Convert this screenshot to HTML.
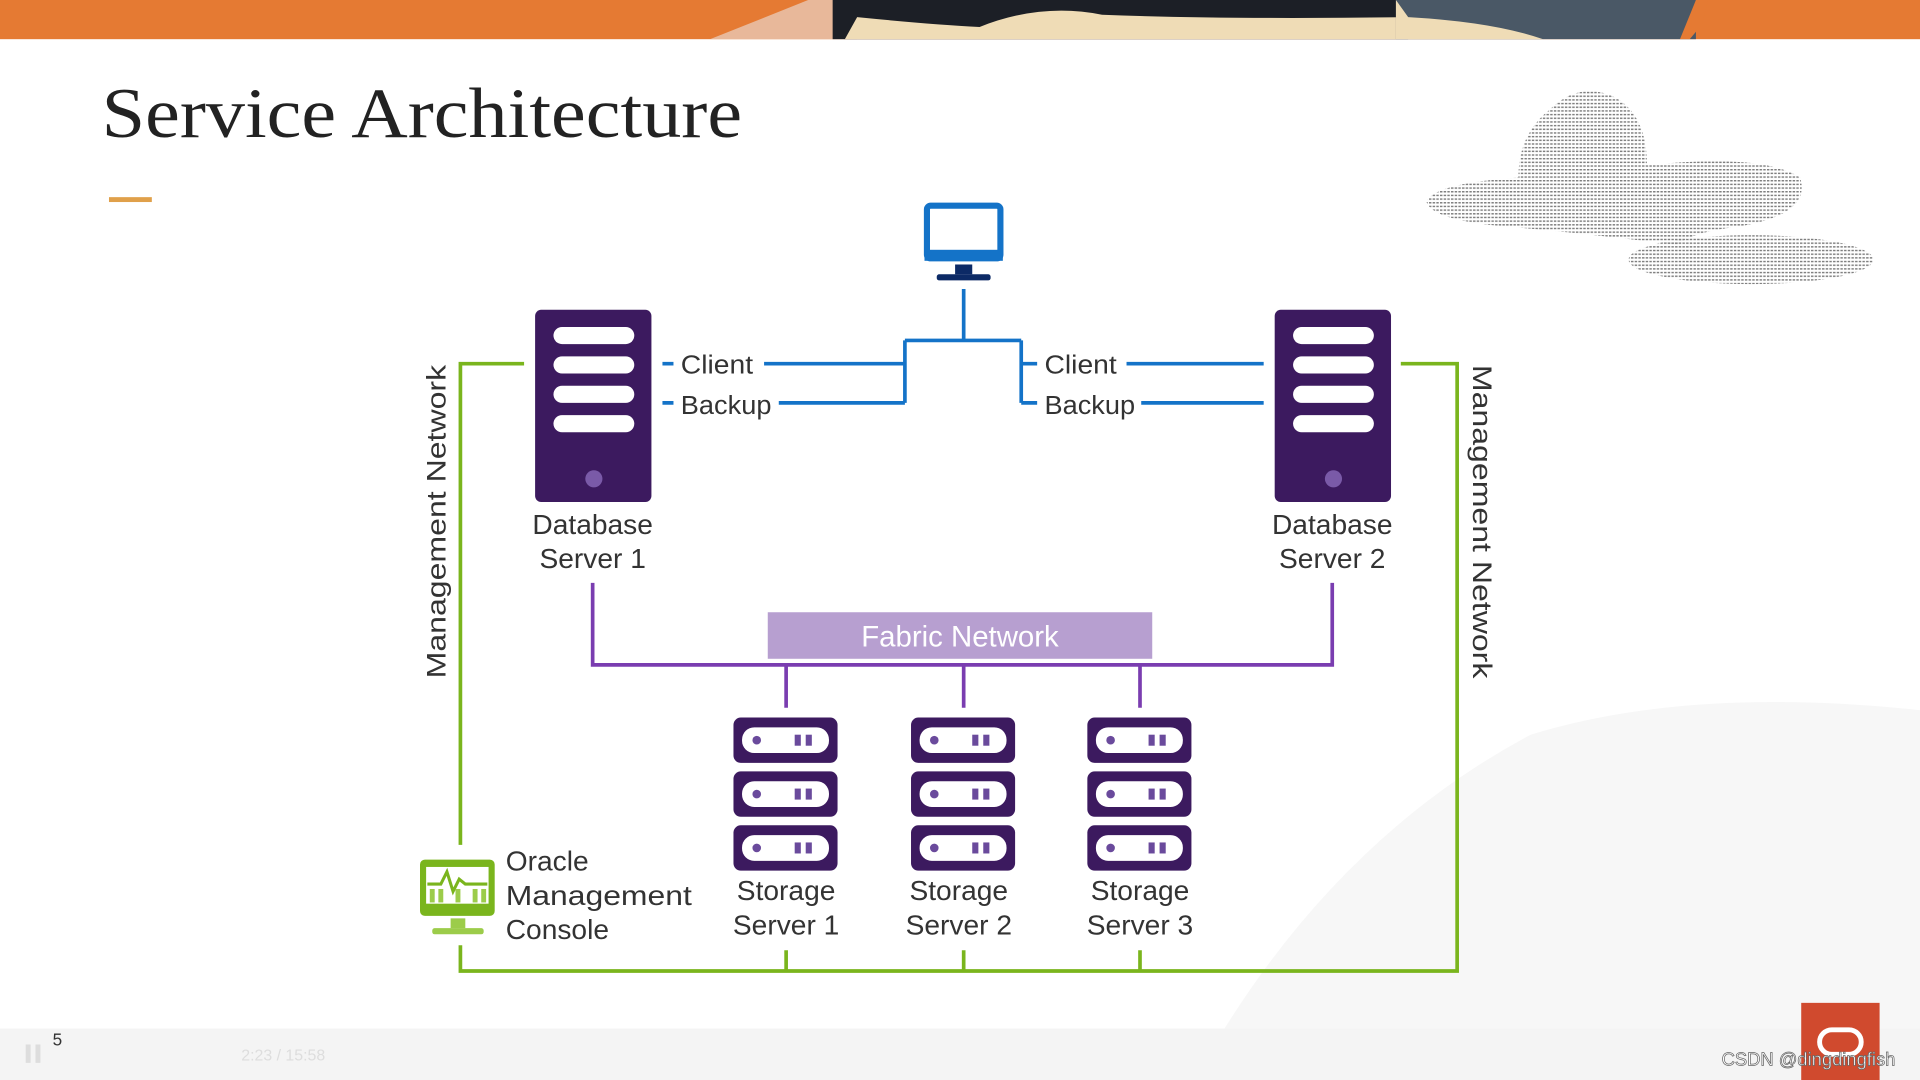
<!DOCTYPE html>
<html><head><meta charset="utf-8"><style>
html,body{margin:0;padding:0;width:1920px;height:1080px;overflow:hidden;background:#fff}
svg{display:block}
text{font-family:"Liberation Sans",sans-serif}
</style></head><body>
<svg width="1920" height="1080" viewBox="0 0 1568 882" xmlns="http://www.w3.org/2000/svg">
<defs>
<pattern id="dots" width="3" height="3" patternUnits="userSpaceOnUse"><rect width="2" height="1.2" fill="#555"/></pattern>
<g id="su">
<rect x="0" y="0" width="85" height="37" rx="6" fill="#3c1a5f"/>
<rect x="7" y="8" width="71" height="21" rx="10" fill="#fff"/>
<circle cx="19" cy="18.5" r="3.5" fill="#6a4a9c"/>
<rect x="50" y="14" width="5" height="9" fill="#6a4a9c"/>
<rect x="59" y="14" width="5" height="9" fill="#6a4a9c"/>
</g>
<g id="db">
<rect x="0" y="0" width="95" height="157" rx="5" fill="#3c1a5f"/>
<rect x="15" y="14" width="66" height="14" rx="7" fill="#fff"/>
<rect x="15" y="38" width="66" height="14" rx="7" fill="#fff"/>
<rect x="15" y="62" width="66" height="14" rx="7" fill="#fff"/>
<rect x="15" y="86" width="66" height="14" rx="7" fill="#fff"/>
<circle cx="48" cy="138" r="7" fill="#7a5aa8"/>
</g>
</defs>
<!-- banner -->
<rect x="0" y="0" width="1568" height="32" fill="#e57a33"/>
<polygon points="580,32 660,0 700,0 700,32" fill="#e8b89a"/>
<rect x="680" y="0" width="470" height="32" fill="#1c1f26"/>
<path d="M690,32 L700,14 Q760,20 800,22 Q850,2 900,12 Q1000,16 1150,14 Q1220,18 1260,32 Z" fill="#efdcb6"/>
<rect x="1140" y="0" width="245" height="32" fill="#4a5866"/>
<path d="M1140,0 L1150,14 Q1220,18 1260,32 L1140,32Z" fill="#efdcb6"/>
<path d="M1385,0 L1395,0 L1390,20 L1380,32 L1372,32 Z" fill="#e57a33"/>
<!-- clouds -->
<g opacity="0.75">
<path d="M1165,165 Q1170,150 1240,145 Q1240,110 1265,90 Q1290,65 1320,80 Q1345,95 1345,135 Q1440,125 1470,145 Q1480,175 1420,185 Q1380,190 1370,200 Q1290,190 1230,185 Q1170,180 1165,165Z" fill="url(#dots)"/>
<ellipse cx="1430" cy="212" rx="100" ry="20" fill="url(#dots)"/>
</g>
<!-- bottom right texture -->
<path d="M1000,840 Q1100,680 1250,600 Q1380,560 1568,580 L1568,840 Z" fill="#f7f7f7"/>
<!-- title -->
<text x="83" y="112" font-size="58" fill="#222" textLength="523" lengthAdjust="spacingAndGlyphs" style="font-family:'Liberation Serif',serif">Service Architecture</text>
<rect x="89" y="161" width="35" height="4" fill="#e0a04a"/>
<!-- monitor -->
<rect x="757" y="168" width="60" height="43" rx="3" fill="#fff" stroke="#1473c8" stroke-width="5"/>
<rect x="755" y="204" width="64" height="9" fill="#1473c8"/>
<rect x="780" y="216" width="14" height="8" fill="#0c2a66"/>
<rect x="765" y="224" width="44" height="5" rx="2" fill="#0c2a66"/>
<!-- blue lines -->
<g stroke="#1473c8" stroke-width="3" fill="none">
<path d="M787,236 V278 M739,278 H834 M739,278 V329 M834,278 V329"/>
<path d="M624,297 H739 M636,329 H739 M541,297 H550 M541,329 H550"/>
<path d="M834,297 H847 M834,329 H847 M920,297 H1032 M932,329 H1032"/>
</g>
<g font-size="21" fill="#333">
<text x="556" y="305" textLength="59" lengthAdjust="spacingAndGlyphs">Client</text><text x="556" y="338" textLength="74" lengthAdjust="spacingAndGlyphs">Backup</text>
<text x="853" y="305" textLength="59" lengthAdjust="spacingAndGlyphs">Client</text><text x="853" y="338" textLength="74" lengthAdjust="spacingAndGlyphs">Backup</text>
</g>
<!-- db servers -->
<use href="#db" x="437" y="253"/>
<use href="#db" x="1041" y="253"/>
<g font-size="23" fill="#333" text-anchor="middle">
<text x="484" y="436">Database</text><text x="484" y="464">Server 1</text>
<text x="1088" y="436">Database</text><text x="1088" y="464">Server 2</text>
</g>
<!-- green lines -->
<g stroke="#7ab51d" stroke-width="3" fill="none">
<path d="M428,297 H376 V690 M376,772 V793 H1190 V297 H1144"/>
<path d="M642,776 V793 M787,776 V793 M931,776 V793"/>
</g>
<!-- purple lines -->
<g stroke="#7a3db0" stroke-width="3" fill="none">
<path d="M484,476 V543 H1088 V476 M642,543 V578 M787,543 V578 M931,543 V578"/>
</g>
<rect x="627" y="500" width="314" height="38" fill="#b79fd0"/>
<text x="784" y="528" font-size="24" fill="#fff" text-anchor="middle">Fabric Network</text>
<!-- storage -->
<use href="#su" x="599" y="586"/><use href="#su" x="599" y="630"/><use href="#su" x="599" y="674"/>
<use href="#su" x="744" y="586"/><use href="#su" x="744" y="630"/><use href="#su" x="744" y="674"/>
<use href="#su" x="888" y="586"/><use href="#su" x="888" y="630"/><use href="#su" x="888" y="674"/>
<g font-size="23" fill="#333" text-anchor="middle">
<text x="642" y="735">Storage</text><text x="642" y="763">Server 1</text>
<text x="783" y="735">Storage</text><text x="783" y="763">Server 2</text>
<text x="931" y="735">Storage</text><text x="931" y="763">Server 3</text>
</g>
<!-- management network labels -->
<text transform="translate(364,426) rotate(-90)" font-size="22" fill="#333" text-anchor="middle" textLength="256" lengthAdjust="spacingAndGlyphs">Management Network</text>
<text transform="translate(1203,426) rotate(90)" font-size="22" fill="#333" text-anchor="middle" textLength="256" lengthAdjust="spacingAndGlyphs">Management Network</text>
<!-- console icon -->
<rect x="343" y="702" width="61" height="46" rx="4" fill="#7ab51d"/>
<rect x="348" y="708" width="51" height="30" fill="#fff"/>
<path d="M349,722 H360 L365,712 L370,728 L375,718 L380,722 H398" stroke="#7ab51d" stroke-width="2.5" fill="none"/>
<g fill="#9ccc4a"><rect x="351" y="726" width="4" height="11"/><rect x="358" y="726" width="4" height="11"/><rect x="372" y="726" width="4" height="11"/><rect x="386" y="726" width="4" height="11"/><rect x="393" y="726" width="4" height="11"/></g>
<rect x="368" y="750" width="12" height="8" fill="#9ccc4a"/>
<rect x="353" y="758" width="42" height="5" rx="2" fill="#9ccc4a"/>
<g font-size="23" fill="#333">
<text x="413" y="711">Oracle</text><text x="413" y="739" textLength="152" lengthAdjust="spacingAndGlyphs">Management</text><text x="413" y="767">Console</text>
</g>
<!-- bottom bar -->
<rect x="0" y="840" width="1568" height="42" fill="#f3f3f3" opacity="0.9"/>
<text x="43" y="854" font-size="14" fill="#333">5</text>
<rect x="21" y="853" width="4" height="15" fill="#ddd"/><rect x="29" y="853" width="4" height="15" fill="#ddd"/>
<text x="197" y="866" font-size="13" fill="#ddd">2:23 / 15:58</text>
<rect x="1471" y="819" width="64" height="63" fill="#d04a2e"/>
<rect x="1486" y="841" width="34" height="20" rx="10" fill="none" stroke="#fff" stroke-width="4"/>
<text x="1406" y="870" font-size="15" fill="#fff" stroke="#666" stroke-width="0.6">CSDN @dingdingfish</text>
</svg>
</body></html>
